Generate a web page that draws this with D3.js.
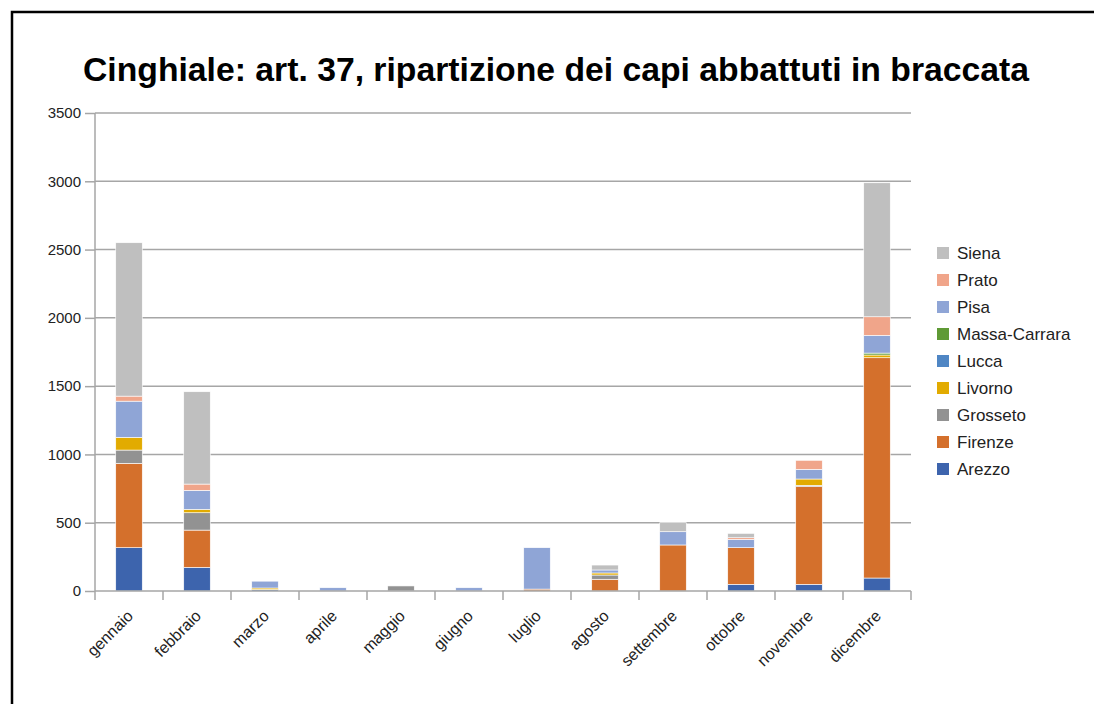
<!DOCTYPE html>
<html>
<head>
<meta charset="utf-8">
<script src="https://cdn.jsdelivr.net/npm/d3@7"></script>
<style>
  body { margin: 0; background: #fff; }
  svg { display: block; font-family: "Liberation Sans", Arial, sans-serif; }
</style>
</head>
<body>
<div id="chart"></div>
<script>
let svgWidth = 1094;
let svgHeight = 704;

let months = ["gennaio", "febbraio", "marzo", "aprile", "maggio", "giugno",
  "luglio", "agosto", "settembre", "ottobre", "novembre", "dicembre"];

let provinces = ["Arezzo", "Firenze", "Grosseto", "Livorno", "Lucca", "Massa-Carrara", "Pisa", "Prato", "Siena"];
let colors = ["#3d64ad", "#d4702c", "#929292", "#e2ab00", "#4f86c4", "#5f9a35", "#8fa5d6", "#f0a58a", "#bfbfbf"];

// values per province, one per month
let arezzo       = [317, 173, 10, 0, 0, 0, 0, 0, 0, 49, 49, 95];
let firenze      = [618, 273, 0, 0, 0, 0, 14, 86, 337, 268, 715, 1613];
let grosseto     = [97, 127, 0, 0, 37, 0, 0, 31, 0, 0, 10, 0];
let livorno      = [93, 25, 12, 0, 0, 0, 0, 15, 0, 0, 46, 20];
let lucca        = [0, 0, 0, 0, 0, 0, 0, 0, 0, 0, 0, 0];
let massaCarrara = [0, 0, 0, 0, 0, 0, 0, 0, 0, 0, 0, 14];
let pisa         = [265, 139, 50, 24, 0, 24, 303, 22, 97, 61, 71, 130];
let prato        = [37, 46, 0, 0, 0, 0, 0, 0, 0, 12, 66, 136];
let siena        = [1123, 676, 0, 0, 0, 0, 0, 36, 66, 32, 0, 981];

let yTicks = [0, 500, 1000, 1500, 2000, 2500, 3000, 3500];

let series = [arezzo, firenze, grosseto, livorno, lucca, massaCarrara, pisa, prato, siena];

let table = months.map((m, i) => {
  let row = { month: m };
  provinces.forEach((p, j) => row[p] = series[j][i]);
  return row;
});

let plot = { left: 95, right: 911, top: 113, bottom: 591 };

let svg = d3.select("#chart").append("svg").attr("width", svgWidth).attr("height", svgHeight);

// frame
svg.append("rect")
  .attr("x", 12).attr("y", 12)
  .attr("width", svgWidth + 20).attr("height", svgHeight + 20)
  .attr("fill", "none").attr("stroke", "#000").attr("stroke-width", 2.5);

svg.append("text")
  .attr("x", 556).attr("y", 81)
  .attr("text-anchor", "middle")
  .attr("font-family", "'Liberation Sans Narrow', 'Liberation Sans', Arial, sans-serif")
  .attr("font-size", 33).attr("font-weight", "bold")
  .attr("textLength", 946).attr("lengthAdjust", "spacingAndGlyphs")
  .attr("fill", "#000")
  .text("Cinghiale: art. 37, ripartizione dei capi abbattuti in braccata");

let x = d3.scaleBand().domain(months).range([plot.left, plot.right]);
let y = d3.scaleLinear().domain([0, 3500]).range([plot.bottom, plot.top]);

// gridlines
svg.append("g")
  .selectAll("line")
  .data(yTicks.slice(1))
  .enter().append("line")
  .attr("x1", plot.left).attr("x2", plot.right)
  .attr("y1", d => y(d)).attr("y2", d => y(d))
  .attr("stroke", "#a6a6a6").attr("stroke-width", 1.5);

let yAxis = svg.append("g")
  .attr("transform", `translate(${plot.left},0)`)
  .call(d3.axisLeft(y).tickValues(yTicks).tickSize(10).tickPadding(4).tickFormat(d3.format("d")));
yAxis.select(".domain").attr("stroke", "#a6a6a6").attr("stroke-width", 1.5).attr("d", `M0,${plot.top}V${plot.bottom}`);
yAxis.selectAll(".tick line").attr("stroke", "#a6a6a6").attr("stroke-width", 1.5);
yAxis.selectAll(".tick text").attr("font-size", 15).attr("fill", "#222")
  .attr("font-family", "'Liberation Sans', Arial, sans-serif");

// stacked bars
let stack = d3.stack().keys(provinces)(table);
let barW = x.bandwidth() * 0.39;

svg.append("g")
  .selectAll("g")
  .data(stack)
  .enter().append("g")
  .attr("fill", (d, i) => colors[i])
  .selectAll("rect")
  .data(d => d)
  .enter().append("rect")
  .filter(d => d[1] - d[0] > 0)
  .attr("x", d => x(d.data.month) + (x.bandwidth() - barW) / 2)
  .attr("width", barW)
  .attr("y", d => y(d[1]))
  .attr("height", d => y(d[0]) - y(d[1]))
  .attr("stroke", "#fff").attr("stroke-width", 0.6);

// x axis with ticks at category boundaries
let xAxis = svg.append("g").attr("transform", `translate(0,${plot.bottom})`);
xAxis.append("line")
  .attr("x1", plot.left).attr("x2", plot.right)
  .attr("stroke", "#a6a6a6").attr("stroke-width", 1.5);
xAxis.selectAll("line.tk")
  .data(months.concat(["_end"]))
  .enter().append("line")
  .attr("class", "tk")
  .attr("x1", (d, i) => plot.left + i * x.step()).attr("x2", (d, i) => plot.left + i * x.step())
  .attr("y1", 0).attr("y2", 9)
  .attr("stroke", "#a6a6a6").attr("stroke-width", 1.5);
xAxis.selectAll("text")
  .data(months)
  .enter().append("text")
  .attr("transform", d => `translate(${x(d) + x.bandwidth() / 2 + 5},${26}) rotate(-45)`)
  .attr("text-anchor", "end")
  .attr("font-size", 16).attr("fill", "#222")
  .text(d => d);

// legend, reversed order like the original
let legend = svg.append("g").attr("transform", "translate(937,253)");
let legendItems = provinces.map((p, i) => ({ name: p, color: colors[i] })).reverse();
let item = legend.selectAll("g")
  .data(legendItems)
  .enter().append("g")
  .attr("transform", (d, i) => `translate(0,${i * 27})`);
item.append("rect")
  .attr("x", 0).attr("y", -6).attr("width", 12).attr("height", 12)
  .attr("fill", d => d.color);
item.append("text")
  .attr("x", 20).attr("y", 6)
  .attr("font-size", 17).attr("fill", "#222")
  .text(d => d.name);
</script>
</body>
</html>
